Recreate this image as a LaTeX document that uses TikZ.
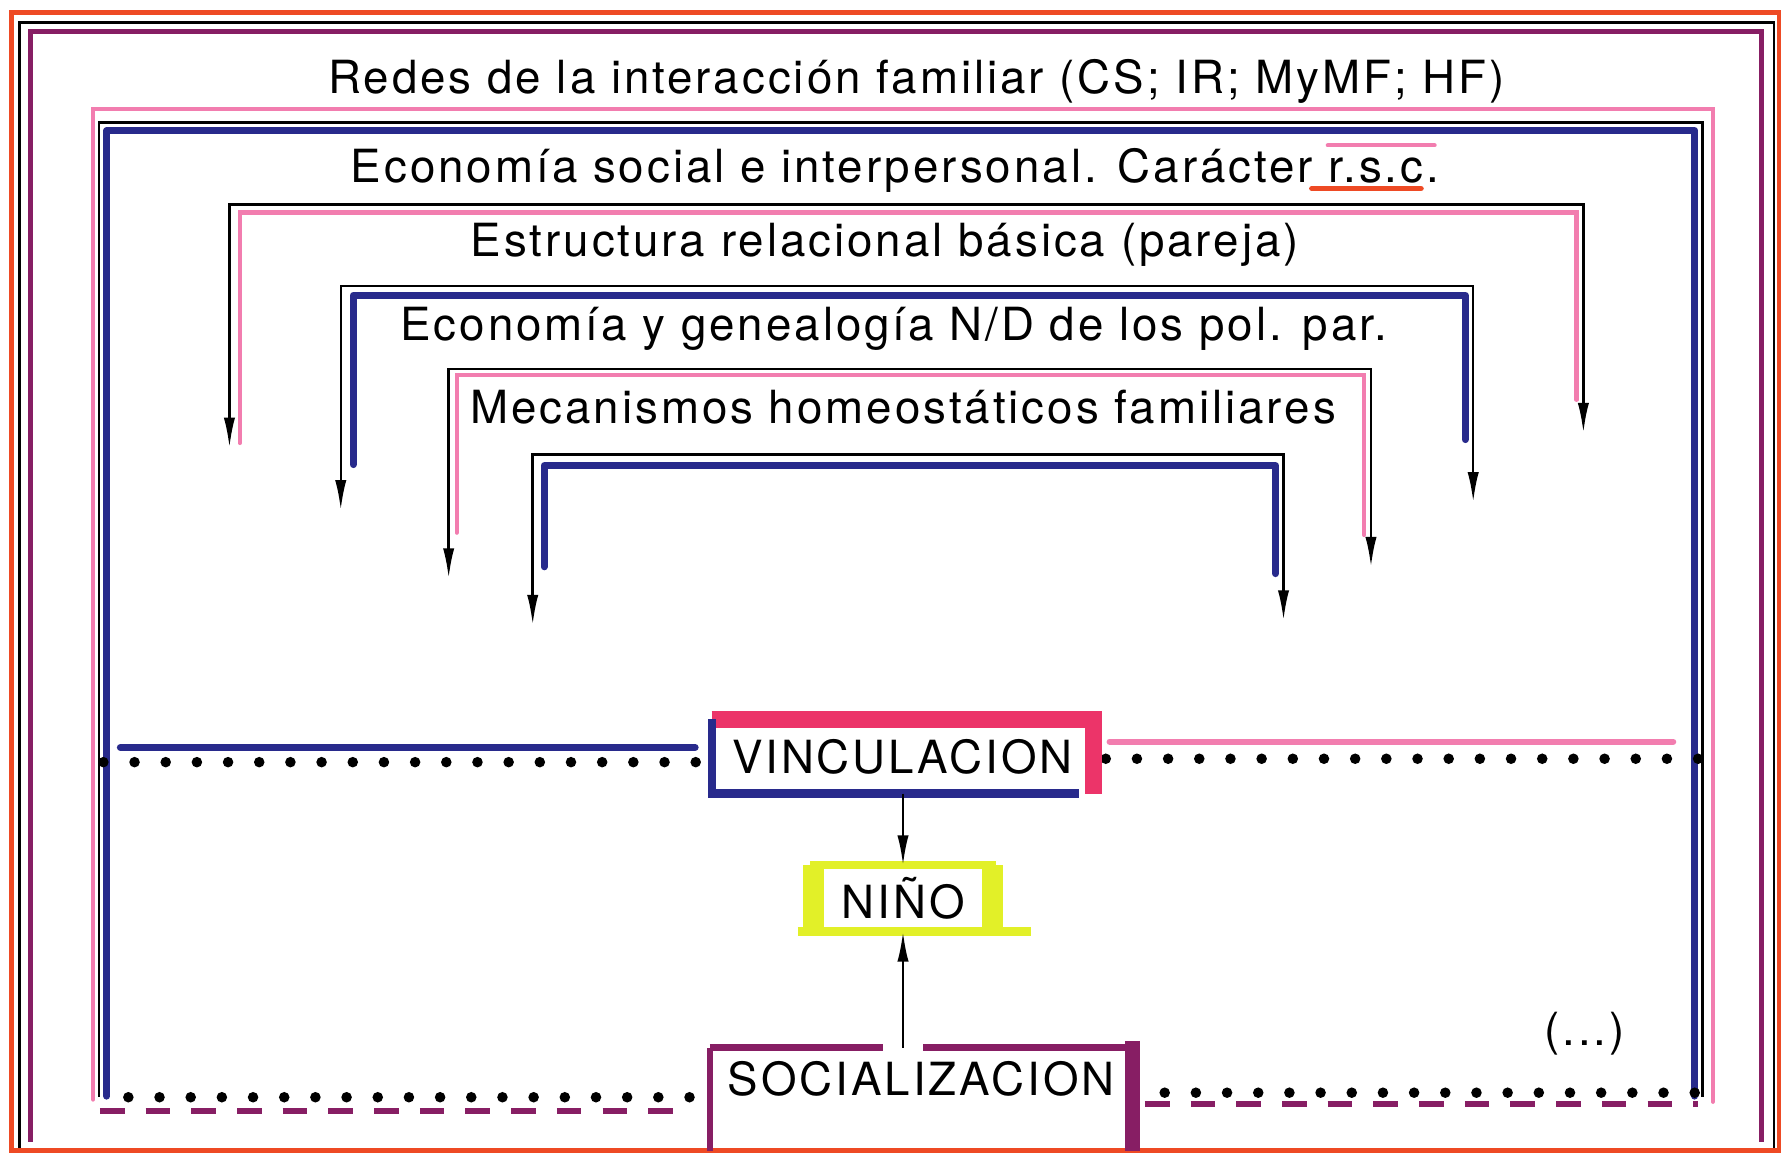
\documentclass[tikz,border=0pt]{standalone}
\usepackage{fontspec}
\setmainfont{TeX Gyre Heros}[LetterSpace=6.5]
\usetikzlibrary{arrows.meta}
\definecolor{frame}{RGB}{238,74,36}
\definecolor{plum}{RGB}{135,30,100}
\definecolor{rose}{RGB}{242,125,175}
\definecolor{hotrose}{RGB}{236,52,105}
\definecolor{penblue}{RGB}{40,42,140}
\definecolor{lemon}{RGB}{226,240,40}
\begin{document}
\begin{tikzpicture}[x=1.1358cm,y=1.1358cm,>={Latex[length=8.5pt,width=3.2pt]},
        lvl/.style={font=\fontsize{13}{15}\selectfont,inner sep=0pt,anchor=base},
        word/.style={font=\fontsize{13}{15}\selectfont,inner sep=0pt},
        ink/.style={line width=0.7pt},
        bluepen/.style={penblue,line width=2pt,line cap=round,line join=round},
        rosepen/.style={rose,line width=1.2pt,line cap=round},
        dotrow/.style={line width=3pt,line cap=round,dash pattern=on 0pt off 8.87pt},
        dashrow/.style={plum,line width=1.8pt,dash pattern=on 7pt off 6pt}]
    \useasboundingbox (0,0) rectangle (15.68,-10.21);
    \fill[white] (0,0) rectangle (15.68,-10.21);
    \coordinate (floor) at (0,-10.13);
    % outer frame
    \draw[ink] (0.17,-10.13)--(0.17,-0.20)--(15.62,-0.20)--(15.62,-10.13);
    \draw[frame,line width=1.4pt] (0.10,-0.11) rectangle (15.67,-10.13);
    \draw[plum,line width=1.4pt] (0.27,-10.05)--(0.27,-0.28)--(15.51,-0.28)--(15.51,-10.05);
    % level frames
    \draw[rosepen] (0.82,-9.68)--(0.82,-0.96)--(15.08,-0.96)--(15.08,-9.70);
    \draw[ink] (0.87,-9.66)--(0.87,-1.08)--(14.99,-1.08)--(14.99,-9.66);
    \draw[bluepen] (0.94,-9.65)--(0.94,-1.15)--(14.92,-1.15)--(14.92,-9.65);
    \draw[ink,<->] (2.02,-3.94) |- (13.94,-1.80)--(13.94,-3.81);
    \draw[rosepen] (2.11,-3.90)--(2.11,-1.87)--(13.88,-1.87)--(13.88,-3.52);
    \draw[ink,<->] (3.00,-4.49) |- (12.97,-2.52)--(12.97,-4.42);
    \draw[bluepen] (3.11,-4.09)--(3.11,-2.60)--(12.90,-2.60)--(12.90,-3.87);
    \draw[ink,<->] (3.95,-5.09) |- (12.07,-3.25)--(12.07,-4.99);
    \draw[rosepen] (4.02,-4.69)--(4.02,-3.30)--(12.01,-3.30)--(12.01,-4.71);
    \draw[ink,<->] (4.69,-5.50) |- (11.30,-4.00)--(11.30,-5.46);
    \draw[bluepen] (4.79,-4.99)--(4.79,-4.10)--(11.23,-4.10)--(11.23,-5.05);
    % texts
    \node[lvl] (redes) at (8.07,-0.82) {Redes de la interacción familiar (CS; IR; MyMF; HF)};
    \node[lvl] (econ) at (7.88,-1.61) {Economía social e interpersonal. Carácter r.s.c.};
    \node[lvl] (estr) at (7.79,-2.26) {Estructura relacional básica (pareja)};
    \node[lvl] (geneal) at (7.87,-3.00) {Economía y genealogía N/D de los pol. par.};
    \node[lvl] (mecan) at (7.95,-3.73) {Mecanismos homeostáticos familiares};
    \draw[frame,line width=1.6pt,line cap=round] (11.55,-1.66)--(12.51,-1.66);
    \draw[rosepen] (11.69,-1.28)--(12.63,-1.28);
    % central boxes
    \node[word,minimum width=3.80cm,minimum height=0.727cm] (vinc) at (7.945,-6.66) {VINCULACION};
    \node[word,minimum width=1.77cm,minimum height=0.65cm] (nino) at (7.95,-7.91) {NIÑO};
    \node[word,minimum width=4.21cm,minimum height=0.61cm] (soc) at (8.11,-9.50) {SOCIALIZACION};
    \node[word] (etc) at (13.95,-9.10) {(...)};
    % dotted links
    \coordinate (vl) at (0.91,-6.71);
    \coordinate (vr) at (14.95,-6.68);
    \coordinate (sl) at (1.13,-9.66);
    \coordinate (sr) at (14.92,-9.62);
    \draw[dotrow] (vl)--(vl -| vinc.west);
    \draw[dotrow] (vr)--(vr -| vinc.east);
    \draw[dotrow] (sl)--(sl -| soc.west);
    \draw[dotrow] (sr)--(sr -| soc.east);
    \draw[bluepen] (1.06,-6.58)--(6.12,-6.58);
    \draw[rosepen,line width=1.8pt] (9.77,-6.53)--(14.73,-6.53);
    \draw[dashrow] (0.88,-9.78)--(6.10,-9.78);
    \draw[dashrow] (10.08,-9.72)--(14.95,-9.72);
    % box outlines
    \draw[hotrose,line width=4.8pt] (vinc.north west)--(vinc.north east)--(vinc.south east);
    \draw[penblue,line width=2.3pt] (vinc.north west)--(vinc.south west)--([xshift=-4pt]vinc.south east);
    \draw[lemon,line width=2.4pt] (nino.north west) rectangle (nino.south east);
    \draw[lemon,line width=6pt] (nino.north west)--(nino.south west) (nino.north east)--(nino.south east);
    \draw[lemon,line width=2.4pt] ([xshift=-0.16cm]nino.south west)--([xshift=0.39cm]nino.south east);
    \draw[plum,line width=2pt] (soc.north west)--([xshift=-0.2cm]soc.north -| nino);
    \draw[plum,line width=2pt] ([xshift=0.2cm]soc.north -| nino)--(soc.north east);
    \draw[plum,line width=1.7pt] (soc.north west)--(soc.north west |- floor);
    \draw[plum,line width=4.3pt] ([yshift=2pt]soc.north east)--(soc.north east |- floor);
    % arrows to the child
    \draw[ink,->] (vinc.south -| nino)--(nino.north);
    \draw[ink,->] (soc.north -| nino)--(nino.south);
\end{tikzpicture}
\end{document}
